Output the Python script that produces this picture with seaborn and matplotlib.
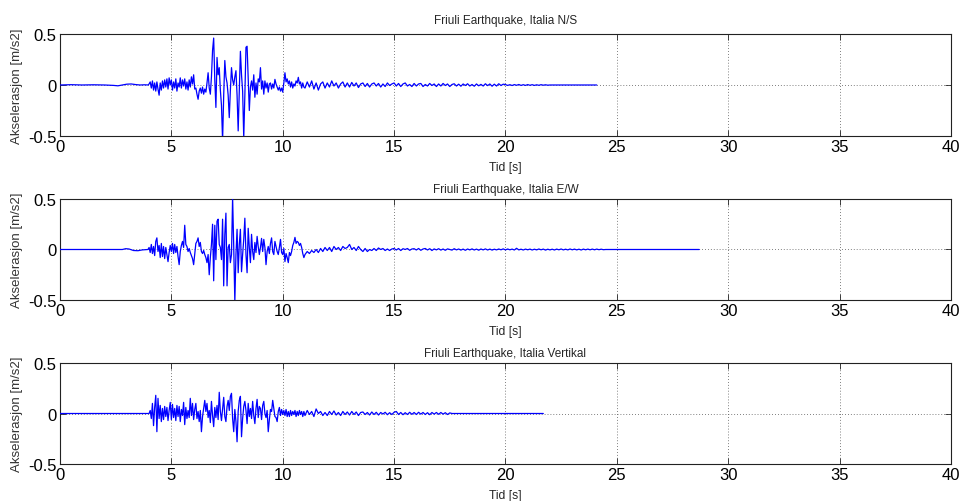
import numpy as np
import pandas as pd
import matplotlib
matplotlib.use("Agg")
import matplotlib.pyplot as plt
import seaborn as sns

# ---------------- data ----------------
titles = ["Friuli Earthquake, Italia N/S",
          "Friuli Earthquake, Italia E/W",
          "Friuli Earthquake, Italia Vertikal"]
x_ticks = [0, 5, 10, 15, 20, 25, 30, 35, 40]
x_ticklabels = ["0", "5", "10", "15", "20", "25", "30", "35", "40"]
y_ticks = [-0.5, 0, 0.5]
y_ticklabels = ["-0.5", "0", "0.5"]
x_label = "Tid [s]"
y_label = "Akselerasjon [m/s2]"

# N/S component
ns_pre_t = [0, 0.5, 1.0, 1.5, 2.0, 2.4, 2.6, 2.8, 3.0, 3.2, 3.4, 3.6, 3.8, 3.95]
ns_pre_a = [0, 0.003, 0, 0.002, 0, -0.004, -0.008, 0.0, 0.008, 0.01, 0.004, 0.0, 0.002, 0.0]
ns_act_start, ns_act_dt = 4.0, 0.05
ns_act_a = [
    0.01, 0.03, -0.03, 0.04, -0.05, 0.02, -0.06, 0.03, -0.04, -0.10, 0.02, -0.05, 0.04, -0.03, 0.05, -0.02, 0.06, -0.04, 0.07, 0.00,
    0.05, -0.05, 0.03, -0.03, 0.06, -0.06, 0.02, -0.02, 0.07, -0.03, 0.05, -0.01, 0.06, -0.04, 0.03, -0.05, 0.05, -0.02, 0.08, 0.01,
    0.10, -0.04, -0.03, -0.09, -0.14, -0.06, -0.03, -0.08, -0.02, -0.09, -0.04, -0.07, 0.02, 0.12, -0.03, -0.09, 0.08, 0.34, 0.46, 0.05,
    -0.22, 0.27, 0.10, 0.17, -0.05, -0.20, -0.55, -0.10, 0.24, 0.08, 0.02, -0.10, -0.32, -0.05, 0.17, 0.05, 0.00, 0.08, 0.14, -0.10,
    -0.45, -0.05, 0.33, 0.10, -0.06, -0.52, -0.10, 0.37, 0.38, 0.05, -0.25, -0.02, 0.04, -0.05, 0.10, -0.12, 0.02, -0.09, 0.06, 0.03,
    0.17, -0.04, 0.04, -0.09, 0.04, -0.03, 0.02, -0.07, 0.01, 0.02, -0.04, 0.01, -0.03, 0.055, 0.01, -0.02, -0.05, -0.02, -0.06, -0.03,
    -0.07, 0.02, 0.12, 0.03, 0.06, 0.01, 0.04, -0.02, 0.03, -0.03, 0.01, -0.01, 0.04, 0.02, 0.075, 0.01, 0.03, -0.03, 0.02, -0.02,
]
ns_tail_start, ns_tail_dt = 11.0, 0.1
ns_tail_a = [
    -0.03, 0.03, -0.02, 0.04, -0.04, 0.02, -0.05, 0.01, 0.03, -0.03, 0.02, -0.02, 0.04, -0.01, 0.02, -0.03, 0.01, 0.03, -0.02, 0.02,
    -0.02, 0.025, -0.01, 0.02, -0.025, 0.01, 0.02, -0.015, 0.015, -0.02, 0.01, 0.02, -0.01, 0.015, -0.02, 0.01, -0.015, 0.02, -0.005, 0.01,
    0.02, -0.01, 0.015, -0.015, 0.01, 0.02, -0.01, 0.005, -0.015, 0.015, -0.01, 0.01, 0.015, -0.015, 0.005, -0.01, 0.015, -0.005, 0.01, -0.015,
    0.01, -0.01, 0.015, -0.005, 0.01, -0.015, 0.005, 0.012, -0.01, 0.008, -0.012, 0.01, -0.005, 0.012, -0.01, 0.005, -0.012, 0.01, -0.008, 0.006,
    -0.01, 0.012, -0.006, 0.01, -0.012, 0.008, -0.01, 0.012, -0.005, 0.008,
    0.004, -0.004, 0.003, -0.005, 0.004, -0.003, 0.005, -0.004, 0.003, -0.004, 0.004, -0.003, 0.003, -0.004, 0.002, -0.003, 0.003, -0.002, 0.002, -0.002, 0.0,
]
ns_end_t = 24.1

# E/W component
ew_pre_t = [0, 2.8, 2.95, 3.1, 3.3, 3.5, 3.7, 3.95]
ew_pre_a = [0, 0, 0.008, 0.005, -0.01, -0.012, -0.004, 0.0]
ew_act_start, ew_act_dt = 4.0, 0.05
ew_act_a = [
    0.02, -0.03, 0.05, -0.04, 0.03, -0.06, 0.08, 0.115, -0.02, 0.04, -0.08, 0.06, -0.07, 0.03, -0.09, 0.02, -0.05, -0.12, -0.03, 0.04,
    -0.02, 0.06, -0.04, 0.05, -0.03, 0.03, -0.07, -0.15, -0.02, 0.04, 0.08, 0.02, 0.24, 0.05, 0.03, -0.02, 0.01, -0.03, -0.06, -0.09,
    -0.15, -0.04, 0.06, 0.08, 0.115, 0.03, 0.07, -0.02, -0.04, -0.01, -0.05, -0.08, -0.13, -0.05, -0.25, -0.08, 0.05, 0.25, -0.31, 0.24,
    -0.10, 0.28, 0.30, 0.05, 0.02, -0.10, 0.30, -0.36, 0.15, 0.36, -0.36, 0.02, 0.05, -0.13, -0.05, 0.52, 0.03, -0.52, -0.05, 0.20,
    -0.23, 0.05, 0.20, -0.22, -0.05, 0.10, 0.31, -0.05, -0.23, 0.21, 0.02, -0.13, 0.15, -0.02, -0.10, 0.07, -0.03, 0.13, 0.03, -0.05,
    0.02, 0.11, -0.02, 0.10, 0.02, -0.15, -0.02, 0.03, -0.04, 0.06, 0.115, -0.02, -0.05, 0.08, 0.03, -0.02, -0.05, 0.02, 0.10, -0.03,
    -0.05, 0.01, -0.12, -0.04, -0.08, -0.13, -0.03, -0.06, -0.02, 0.04, 0.07, 0.12, 0.06, 0.08, 0.07, 0.04, 0.06, 0.02, -0.04, -0.08,
]
ew_tail_start, ew_tail_dt = 11.0, 0.1
ew_tail_a = [
    -0.05, -0.02, -0.04, -0.01, -0.03, 0.0, -0.03, 0.01, -0.02, 0.02,
    -0.01, 0.02, -0.02, 0.03, 0.0, 0.02, -0.01, 0.03, 0.01, 0.02,
    0.05, 0.0, 0.02, -0.01, 0.03, 0.0, -0.02, 0.01, -0.02, 0.0,
    -0.01, 0.01, -0.01, 0.015, 0.0, 0.01, -0.01, 0.005, -0.01, 0.005,
    0.01, -0.005, 0.01, -0.01, 0.008, 0.0, 0.01, -0.008, 0.005, 0.008,
    -0.005, 0.01, -0.008, 0.005, 0.01, -0.005, 0.008, -0.01, 0.006, -0.004,
    0.008, -0.006, 0.005, -0.008, 0.006, 0.0, -0.006, 0.008, -0.004, 0.005,
    -0.006, 0.004, -0.008, 0.005, -0.004, 0.006, -0.005, 0.004, -0.007, 0.005,
    -0.004, 0.006, -0.005, 0.004, -0.006, 0.003, -0.004, 0.005, -0.003, 0.006,
    -0.004, 0.005, -0.003, 0.004, -0.005, 0.012, -0.004, 0.003, -0.005, 0.004,
    -0.003, 0.004, -0.005, 0.003, -0.004, 0.005, -0.003, 0.004, -0.006, 0.003,
    -0.004, 0.003, -0.005, 0.004, -0.003, 0.005, -0.004, 0.003, -0.004, 0.005,
    -0.003, 0.004, -0.004, 0.003, -0.005, 0.004, -0.003, 0.004, -0.003, 0.004,
    -0.003, 0.004, -0.002, 0.003, -0.002, 0.0,
]
ew_end_t = 28.7

# Vertical component
vt_pre_t = [0, 3.95]
vt_pre_a = [0, 0]
vt_act_start, vt_act_dt = 4.0, 0.05
vt_act_a = [
    0.0, 0.03, -0.05, 0.10, -0.12, 0.06, 0.18, -0.18, 0.15, -0.05, 0.08, -0.08, 0.05, -0.06, 0.07, -0.03, 0.06, -0.07, 0.03, 0.11,
    -0.06, 0.09, -0.04, 0.05, -0.07, 0.08, -0.03, 0.07, -0.08, 0.04, -0.02, 0.11, -0.11, 0.06, -0.05, 0.03, -0.04, 0.15, -0.02, 0.10,
    -0.06, 0.04, 0.10, -0.05, 0.02, -0.08, 0.03, -0.18, -0.03, 0.05, 0.13, 0.02, 0.10, -0.04, 0.03, -0.09, 0.12, -0.02, -0.13, 0.06,
    -0.04, 0.08, -0.06, 0.21, 0.02, -0.07, 0.05, 0.16, -0.03, -0.08, 0.07, 0.13, 0.03, 0.17, 0.20, -0.05, -0.18, 0.04, -0.08, -0.28,
    0.02, 0.13, 0.17, -0.23, -0.05, 0.07, 0.12, 0.03, -0.10, 0.10, -0.03, 0.05, -0.05, 0.12, -0.02, -0.10, 0.05, 0.14, -0.04, 0.07,
    0.05, -0.06, 0.08, 0.12, 0.00, -0.04, 0.03, -0.18, -0.06, 0.04, 0.02, 0.13, 0.05, -0.03, -0.04, -0.08, 0.02, 0.06, -0.02, 0.04,
    -0.01, 0.03, -0.02, 0.04, -0.03, 0.02, -0.03, 0.03, -0.02, 0.02, -0.01, 0.03, -0.03, 0.02, -0.02, 0.03, -0.01, 0.02, -0.03, 0.02,
]
vt_tail_start, vt_tail_dt = 11.0, 0.1
vt_tail_a = [
    -0.02, 0.03, -0.01, 0.02, -0.03, 0.045, 0.0, 0.02, -0.02, 0.01,
    -0.02, 0.02, -0.01, 0.025, -0.015, 0.01, -0.02, 0.02, -0.01, 0.015,
    -0.015, 0.02, -0.01, 0.015, -0.02, 0.01, 0.015, -0.01, 0.01, -0.015,
    0.015, -0.01, 0.012, -0.015, 0.01, -0.005, 0.012, -0.012, 0.008, -0.01,
    0.012, 0.02, -0.01, 0.01, -0.012, 0.008, -0.01, 0.012, -0.008, 0.01,
    -0.01, 0.012, -0.006, 0.01, -0.01, 0.008, -0.012, 0.01, -0.006, 0.01,
    -0.008, 0.01, -0.006, 0.008, -0.01, 0.006, 0.0,
]
vt_end_t = 21.7


def build(pre_t, pre_a, a_start, a_dt, a_vals, t_start, t_dt, t_vals, end_t):
    t_act = np.round(a_start + a_dt * np.arange(len(a_vals)), 4)
    t_tail = np.round(t_start + t_dt * np.arange(len(t_vals)), 4)
    t = np.concatenate([pre_t, t_act, t_tail, [end_t]])
    a = np.concatenate([pre_a, a_vals, t_vals, [0.0]])
    return pd.DataFrame({"t": t, "a": a})


frames = [
    build(ns_pre_t, ns_pre_a, ns_act_start, ns_act_dt, ns_act_a, ns_tail_start, ns_tail_dt, ns_tail_a, ns_end_t),
    build(ew_pre_t, ew_pre_a, ew_act_start, ew_act_dt, ew_act_a, ew_tail_start, ew_tail_dt, ew_tail_a, ew_end_t),
    build(vt_pre_t, vt_pre_a, vt_act_start, vt_act_dt, vt_act_a, vt_tail_start, vt_tail_dt, vt_tail_a, vt_end_t),
]

# ---------------- plotting ----------------
sns.set_theme(style="white")
plt.rcParams["font.family"] = ["Liberation Sans", "DejaVu Sans"]

fig = plt.figure(figsize=(9.6, 5.02), dpi=100)
positions = [
    [0.0625, 0.7271, 0.928, 0.2032],
    [0.0625, 0.4004, 0.928, 0.2012],
    [0.0625, 0.0737, 0.928, 0.2012],
]
title_pads = [8, 5, 5]

for pos, df, title, tpad in zip(positions, frames, titles, title_pads):
    ax = fig.add_axes(pos)
    sns.lineplot(data=df, x="t", y="a", ax=ax, color="#0000ff", linewidth=0.9,
                 estimator=None, sort=False, legend=False, zorder=3)
    ax.set_xlim(0, 40)
    ax.set_ylim(-0.5, 0.5)
    ax.set_xticks(x_ticks)
    ax.set_xticklabels(x_ticklabels)
    ax.set_yticks(y_ticks)
    ax.set_yticklabels(y_ticklabels)
    ax.grid(True, linestyle=(0, (1, 2.5)), linewidth=0.6, color="#555555", zorder=0)
    ax.set_axisbelow(True)
    for s in ax.spines.values():
        s.set_visible(True)
        s.set_color("#222222")
        s.set_linewidth(0.8)
    ax.tick_params(axis="both", which="both", direction="in", length=4, width=0.6,
                   top=True, right=True, bottom=True, left=True,
                   labelsize=12, pad=2.5, colors="#222222", labelcolor="black")
    ax.set_title(title, fontsize=8.5, pad=tpad)
    ax.set_xlabel(x_label, fontsize=8.7)
    ax.set_ylabel(y_label, fontsize=9.5, color="#333333")
    ax.xaxis.set_label_coords(0.5, -0.245)
    ax.yaxis.set_label_coords(-0.041, 0.5)

fig.savefig("out.png", dpi=100)
